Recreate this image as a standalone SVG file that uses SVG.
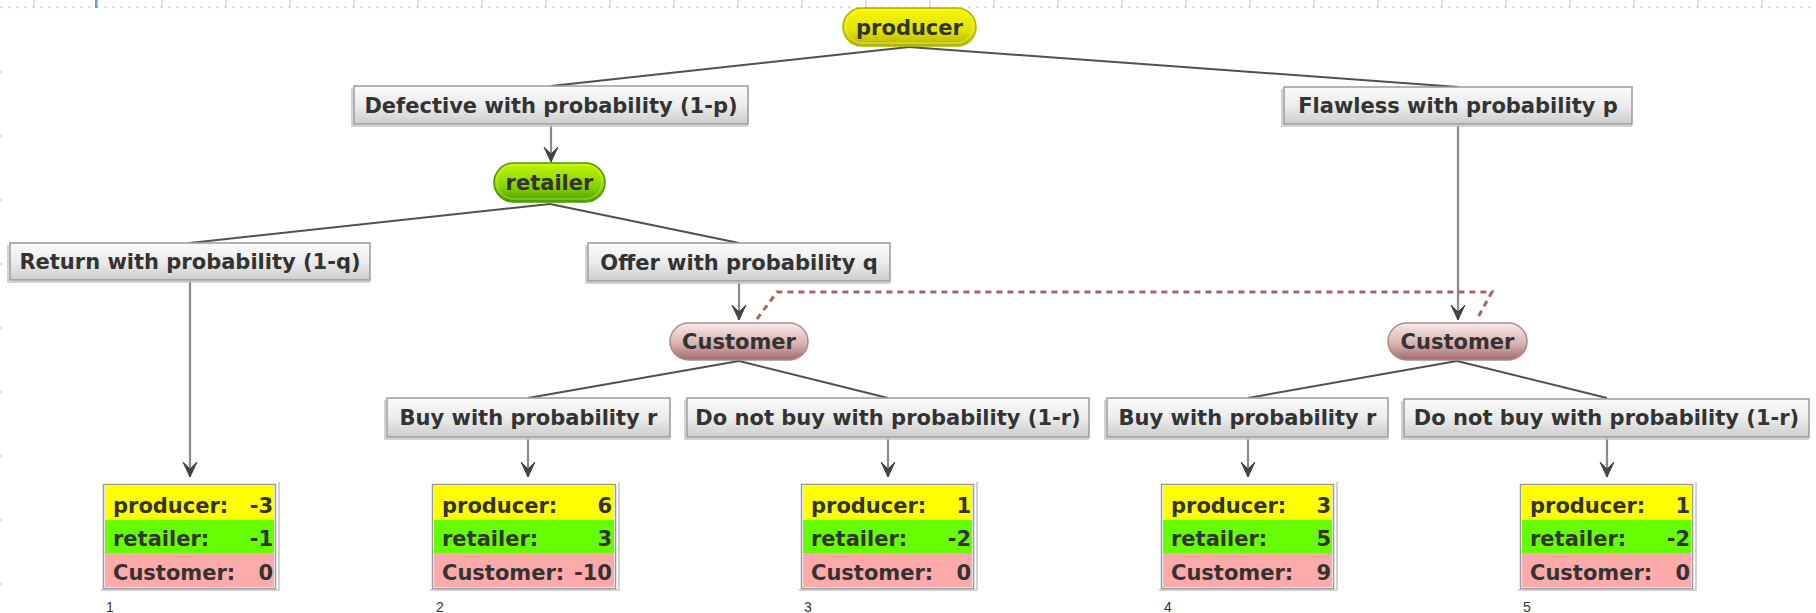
<svg xmlns="http://www.w3.org/2000/svg" width="1816" height="613" viewBox="0 0 1816 613">
<style>
.t{font-family:"DejaVu Sans",Verdana,sans-serif;font-weight:bold;font-size:21px;fill:#333}
.lb{fill:url(#boxG);stroke:#9a9a9a;stroke-width:1.5}
.sh{fill:none;stroke:#c4c4c4;stroke-width:1.5}
.ln{stroke:#505050;stroke-width:2;fill:none}
.ar{stroke:#8a8a8a;stroke-width:2.2;fill:none;marker-end:url(#ah)}
.num{font-family:"Liberation Sans",Arial,sans-serif;font-size:14px;fill:#333}
.py{fill:#ffff00}.rt{fill:#66ff00}.cu{fill:#ffaaaa}
.frame{fill:none;stroke:#9a9a9a;stroke-width:1.5}
.v{text-anchor:end}
</style>
<defs>
<linearGradient id="boxG" x1="0" y1="0" x2="0" y2="1">
<stop offset="0" stop-color="#fbfbfb"/><stop offset="0.5" stop-color="#ececec"/><stop offset="1" stop-color="#cdcdcd"/>
</linearGradient>
<linearGradient id="yG" x1="0" y1="0" x2="0" y2="1">
<stop offset="0" stop-color="#f6f600"/><stop offset="0.6" stop-color="#e2e200"/><stop offset="1" stop-color="#b4b400"/>
</linearGradient>
<linearGradient id="gG" x1="0" y1="0" x2="0" y2="1">
<stop offset="0" stop-color="#bff400"/><stop offset="0.6" stop-color="#88d400"/><stop offset="1" stop-color="#4c9c00"/>
</linearGradient>
<linearGradient id="cG" x1="0" y1="0" x2="0" y2="1">
<stop offset="0" stop-color="#f8eaea"/><stop offset="0.55" stop-color="#d9b3b3"/><stop offset="1" stop-color="#a26a6a"/>
</linearGradient>
<marker id="ah" markerWidth="16" markerHeight="18" viewBox="-8 -16 16 17" refX="0" refY="0" orient="0" markerUnits="userSpaceOnUse">
<path d="M0,0 L-7,-15 L0,-8 L7,-15 Z" fill="#444" stroke="#444" stroke-width="1" stroke-linejoin="round"/>
</marker>
</defs>
<rect width="1816" height="613" fill="#fff"/>

<g id="grid">
<line x1="0" y1="7.5" x2="1816" y2="7.5" stroke="#ccd6f5" stroke-width="1.5" stroke-dasharray="3,5"/>
<g stroke="#ccd6f5" stroke-width="1.5">
<line x1="34" y1="0" x2="34" y2="7"/><line x1="162" y1="0" x2="162" y2="7"/><line x1="226" y1="0" x2="226" y2="7"/><line x1="290" y1="0" x2="290" y2="7"/><line x1="354" y1="0" x2="354" y2="7"/><line x1="418" y1="0" x2="418" y2="7"/><line x1="482" y1="0" x2="482" y2="7"/><line x1="546" y1="0" x2="546" y2="7"/><line x1="610" y1="0" x2="610" y2="7"/><line x1="674" y1="0" x2="674" y2="7"/><line x1="738" y1="0" x2="738" y2="7"/><line x1="802" y1="0" x2="802" y2="7"/><line x1="866" y1="0" x2="866" y2="7"/><line x1="930" y1="0" x2="930" y2="7"/><line x1="994" y1="0" x2="994" y2="7"/><line x1="1058" y1="0" x2="1058" y2="7"/><line x1="1122" y1="0" x2="1122" y2="7"/><line x1="1186" y1="0" x2="1186" y2="7"/><line x1="1250" y1="0" x2="1250" y2="7"/><line x1="1314" y1="0" x2="1314" y2="7"/><line x1="1378" y1="0" x2="1378" y2="7"/><line x1="1442" y1="0" x2="1442" y2="7"/><line x1="1506" y1="0" x2="1506" y2="7"/><line x1="1570" y1="0" x2="1570" y2="7"/><line x1="1634" y1="0" x2="1634" y2="7"/><line x1="1698" y1="0" x2="1698" y2="7"/><line x1="1762" y1="0" x2="1762" y2="7"/>
</g>
<rect x="95" y="0" width="2.5" height="8" fill="#7090f0"/>
<g fill="#ccd6f5">
<rect x="0" y="71" width="1.5" height="2"/><rect x="0" y="135" width="1.5" height="2"/><rect x="0" y="199" width="1.5" height="2"/><rect x="0" y="263" width="1.5" height="2"/><rect x="0" y="327" width="1.5" height="2"/><rect x="0" y="391" width="1.5" height="2"/><rect x="0" y="455" width="1.5" height="2"/><rect x="0" y="519" width="1.5" height="2"/><rect x="0" y="583" width="1.5" height="2"/>
</g>
</g>

<g id="connectors">
<line class="ln" x1="909" y1="47" x2="551" y2="86"/>
<line class="ln" x1="909" y1="47" x2="1458" y2="87"/>
<line class="ln" x1="550" y1="204" x2="190" y2="243"/>
<line class="ln" x1="550" y1="204" x2="739" y2="243"/>
<line class="ln" x1="739" y1="361" x2="528" y2="398"/>
<line class="ln" x1="739" y1="361" x2="888" y2="398"/>
<line class="ln" x1="1457" y1="361" x2="1248" y2="398"/>
<line class="ln" x1="1457" y1="361" x2="1607" y2="398"/>
<line class="ar" x1="551" y1="125" x2="551" y2="162"/>
<line class="ar" x1="739" y1="282" x2="739" y2="320"/>
<line class="ar" x1="1458" y1="125" x2="1458" y2="320"/>
<line class="ar" x1="190" y1="281" x2="190" y2="477"/>
<line class="ar" x1="528" y1="438" x2="528" y2="477"/>
<line class="ar" x1="888" y1="438" x2="888" y2="477"/>
<line class="ar" x1="1248" y1="438" x2="1248" y2="477"/>
<line class="ar" x1="1607" y1="438" x2="1607" y2="477"/>
<path d="M757,319 L777,292 L1492,292 L1477,319" fill="none" stroke="#a86464" stroke-width="3" stroke-dasharray="6,5"/>
</g>

<g id="producer">
<rect x="843" y="8" width="133" height="38" rx="19" fill="url(#yG)" stroke="#b0b000" stroke-width="1.5"/>
<rect x="846" y="10" width="127" height="33" rx="16.5" fill="none" stroke="#fafa60" stroke-width="1" opacity="0.7"/>
<text class="t" x="909.5" y="35" text-anchor="middle">producer</text>
</g>

<g id="defective">
<path class="sh" d="M352,88 V126 H748"/>
<rect class="lb" x="354" y="86" width="394" height="38"/>
<text class="t" x="551" y="113" text-anchor="middle">Defective with probability (1-p)</text>
</g>

<g id="flawless">
<path class="sh" d="M1282,89 V126 H1632"/>
<rect class="lb" x="1284" y="87" width="348" height="37"/>
<text class="t" x="1458" y="113" text-anchor="middle">Flawless with probability p</text>
</g>

<g id="retailer">
<rect x="494" y="163" width="111" height="39" rx="19.5" fill="url(#gG)" stroke="#4c9a00" stroke-width="1.5"/>
<rect x="497" y="165" width="105" height="34" rx="17" fill="none" stroke="#d8ff60" stroke-width="1" opacity="0.6"/>
<text class="t" x="549.5" y="190" text-anchor="middle">retailer</text>
</g>

<g id="return">
<path class="sh" d="M8,245 V282 H370"/>
<rect class="lb" x="10" y="243" width="360" height="37"/>
<text class="t" x="190" y="269" text-anchor="middle">Return with probability (1-q)</text>
</g>

<g id="offer">
<path class="sh" d="M586,245 V283 H890"/>
<rect class="lb" x="588" y="243" width="302" height="38"/>
<text class="t" x="739" y="270" text-anchor="middle">Offer with probability q</text>
</g>

<g id="customer1">
<rect x="670" y="323" width="138" height="37" rx="18.5" fill="url(#cG)" stroke="#b08a8a" stroke-width="1.5"/>
<text class="t" x="739" y="349" text-anchor="middle">Customer</text>
</g>

<g id="customer2">
<rect x="1388" y="323" width="139" height="37" rx="18.5" fill="url(#cG)" stroke="#b08a8a" stroke-width="1.5"/>
<text class="t" x="1457.5" y="349" text-anchor="middle">Customer</text>
</g>

<g id="buy1">
<path class="sh" d="M385,400 V439 H670"/>
<rect class="lb" x="387" y="398" width="283" height="39"/>
<text class="t" x="528.5" y="425" text-anchor="middle">Buy with probability r</text>
</g>

<g id="donot1">
<path class="sh" d="M685,400 V439 H1089"/>
<rect class="lb" x="687" y="398" width="402" height="39"/>
<text class="t" x="888" y="425" text-anchor="middle">Do not buy with probability (1-r)</text>
</g>

<g id="buy2">
<path class="sh" d="M1105,400 V439 H1388"/>
<rect class="lb" x="1107" y="398" width="281" height="39"/>
<text class="t" x="1247.5" y="425" text-anchor="middle">Buy with probability r</text>
</g>

<g id="donot2">
<path class="sh" d="M1402,401 V439 H1809"/>
<rect class="lb" x="1404" y="399" width="405" height="38"/>
<text class="t" x="1606.5" y="425" text-anchor="middle">Do not buy with probability (1-r)</text>
</g>

<g id="payoff1">
<path class="sh" d="M101,590 H279 V482"/>
<rect class="py" x="105" y="486" width="169" height="34"/><rect class="rt" x="105" y="520" width="169" height="33"/><rect class="cu" x="105" y="553" width="169" height="34"/>
<rect class="frame" x="103.5" y="484.5" width="172" height="104"/>
<text class="t" x="113" y="513">producer:</text><text class="t v" x="273" y="513">-3</text>
<text class="t" x="113" y="546">retailer:</text><text class="t v" x="273" y="546">-1</text>
<text class="t" x="113" y="580">Customer:</text><text class="t v" x="273" y="580">0</text>
<text class="num" x="106" y="612">1</text>
</g>

<g id="payoff2">
<path class="sh" d="M430,590 H619 V482"/>
<rect class="py" x="434" y="486" width="180" height="34"/><rect class="rt" x="434" y="520" width="180" height="33"/><rect class="cu" x="434" y="553" width="180" height="34"/>
<rect class="frame" x="432.5" y="484.5" width="183" height="104"/>
<text class="t" x="442" y="513">producer:</text><text class="t v" x="612" y="513">6</text>
<text class="t" x="442" y="546">retailer:</text><text class="t v" x="612" y="546">3</text>
<text class="t" x="442" y="580">Customer:</text><text class="t v" x="612" y="580">-10</text>
<text class="num" x="436" y="612">2</text>
</g>

<g id="payoff3">
<path class="sh" d="M799,590 H977 V482"/>
<rect class="py" x="803" y="486" width="169" height="34"/><rect class="rt" x="803" y="520" width="169" height="33"/><rect class="cu" x="803" y="553" width="169" height="34"/>
<rect class="frame" x="801.5" y="484.5" width="172" height="104"/>
<text class="t" x="811" y="513">producer:</text><text class="t v" x="971" y="513">1</text>
<text class="t" x="811" y="546">retailer:</text><text class="t v" x="971" y="546">-2</text>
<text class="t" x="811" y="580">Customer:</text><text class="t v" x="971" y="580">0</text>
<text class="num" x="804" y="612">3</text>
</g>

<g id="payoff4">
<path class="sh" d="M1159,590 H1337 V482"/>
<rect class="py" x="1163" y="486" width="169" height="34"/><rect class="rt" x="1163" y="520" width="169" height="33"/><rect class="cu" x="1163" y="553" width="169" height="34"/>
<rect class="frame" x="1161.5" y="484.5" width="172" height="104"/>
<text class="t" x="1171" y="513">producer:</text><text class="t v" x="1331" y="513">3</text>
<text class="t" x="1171" y="546">retailer:</text><text class="t v" x="1331" y="546">5</text>
<text class="t" x="1171" y="580">Customer:</text><text class="t v" x="1331" y="580">9</text>
<text class="num" x="1164" y="612">4</text>
</g>

<g id="payoff5">
<path class="sh" d="M1518,590 H1696 V482"/>
<rect class="py" x="1522" y="486" width="169" height="34"/><rect class="rt" x="1522" y="520" width="169" height="33"/><rect class="cu" x="1522" y="553" width="169" height="34"/>
<rect class="frame" x="1520.5" y="484.5" width="172" height="104"/>
<text class="t" x="1530" y="513">producer:</text><text class="t v" x="1690" y="513">1</text>
<text class="t" x="1530" y="546">retailer:</text><text class="t v" x="1690" y="546">-2</text>
<text class="t" x="1530" y="580">Customer:</text><text class="t v" x="1690" y="580">0</text>
<text class="num" x="1523" y="612">5</text>
</g>
</svg>
